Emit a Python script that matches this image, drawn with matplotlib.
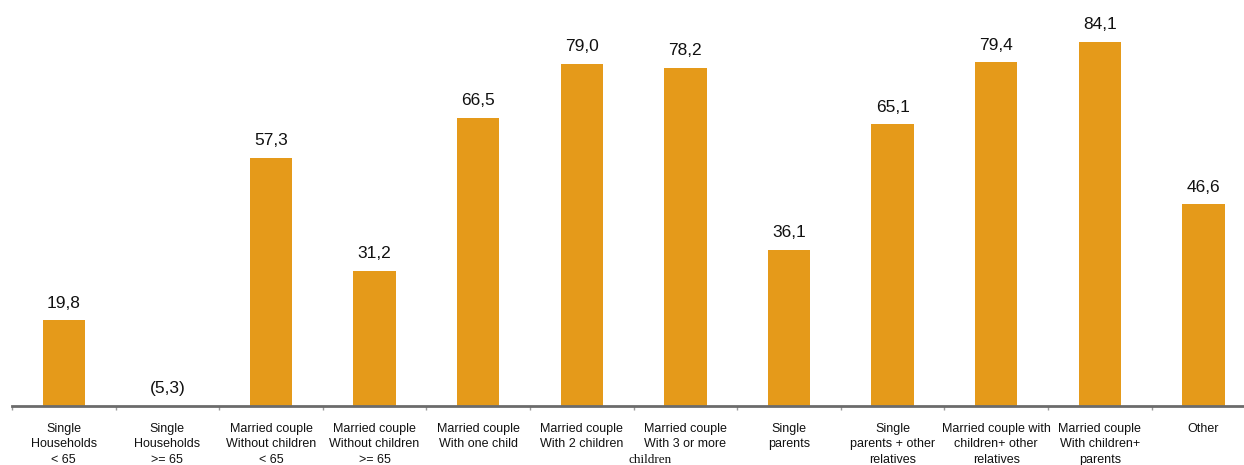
import numpy as np
import matplotlib.pyplot as plt
import matplotlib.transforms as mtransforms

plt.rcParams['font.family'] = ['Liberation Sans', 'DejaVu Sans']

categories = [
    "Single\nHouseholds\n< 65",
    "Single\nHouseholds\n>= 65",
    "Married couple\nWithout children\n< 65",
    "Married couple\nWithout children\n>= 65",
    "Married couple\nWith one child",
    "Married couple\nWith 2 children",
    "Married couple\nWith 3 or more",
    "Single\nparents",
    "Single\nparents + other\nrelatives",
    "Married couple with\nchildren+ other\nrelatives",
    "Married couple\nWith children+\nparents",
    "Other",
]
values = [19.8, -5.3, 57.3, 31.2, 66.5, 79.0, 78.2, 36.1, 65.1, 79.4, 84.1, 46.6]

bar_color = '#E59A1A'
axis_color = '#6b6b6b'


def fmt(v):
    s = f"{abs(v):.1f}".replace('.', ',')
    return f"({s})" if v < 0 else s


fig = plt.figure(figsize=(12.44, 4.65), dpi=100)
ax = fig.add_axes([12 / 1244, 59 / 465, 12 * 103.6 / 1244, 406 / 465])

x = np.arange(len(values))
ax.bar(x, values, width=0.41, color=bar_color, zorder=2)

ax.set_xlim(-0.5, len(values) - 0.5)
ax.set_ylim(0, 93.8)

for xi, v in zip(x, values):
    ax.annotate(fmt(v), (xi, max(v, 0)), xytext=(0, 7), textcoords='offset points',
                ha='center', va='bottom', fontsize=12.5, color='#111111')

# spines and ticks
for side in ['top', 'right', 'left']:
    ax.spines[side].set_visible(False)
ax.spines['bottom'].set_color(axis_color)
ax.spines['bottom'].set_linewidth(2)
ax.set_yticks([])

ax.set_xticks(np.arange(-0.5, len(values), 1.0))
ax.set_xticklabels([])
ax.tick_params(axis='x', which='major', direction='out', length=3, width=1, color='#999999')

ax.set_xticks(x, minor=True)
ax.set_xticklabels(categories, minor=True, fontsize=9, linespacing=1.4, color='#111111')
ax.tick_params(axis='x', which='minor', length=0, pad=12)

# stray last line of the 7th label, set in a serif face
trans = mtransforms.blended_transform_factory(ax.transData, ax.transAxes)
ax.text(5.66, -0.133, "children", transform=trans, ha='center', va='center',
        fontsize=9.5, family='Liberation Serif', color='#111111')

fig.savefig('out.png', dpi=100)
